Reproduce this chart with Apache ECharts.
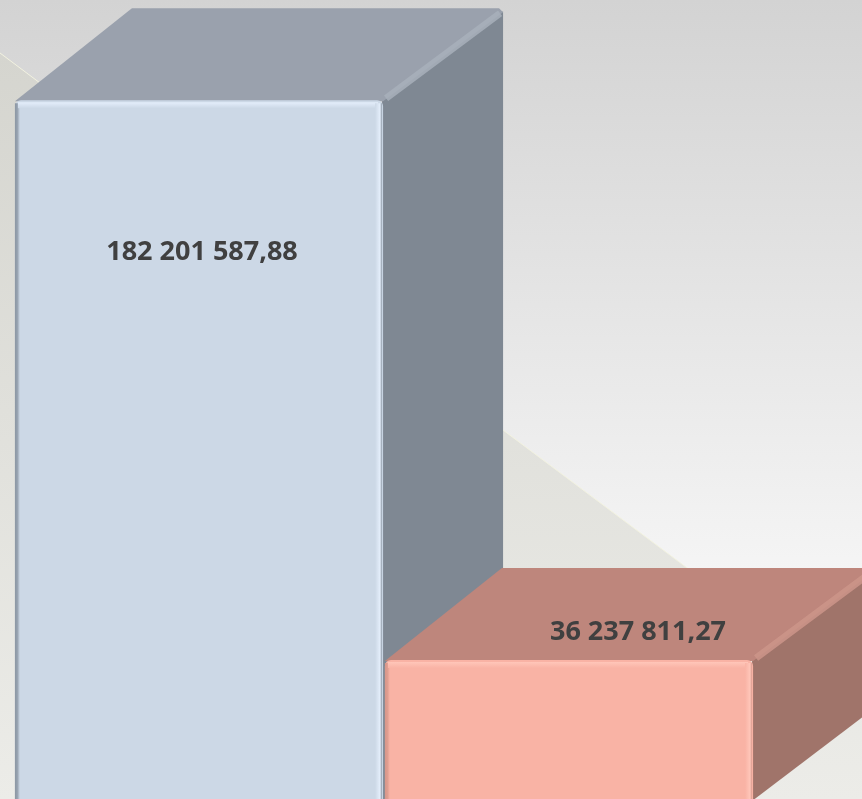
<!DOCTYPE html>
<html>
<head>
<meta charset="utf-8">
<script src="https://cdn.jsdelivr.net/npm/echarts@6/dist/echarts.min.js"></script>
<style>
html,body{margin:0;padding:0;background:#e6e6e6;}
#chart{width:862px;height:799px;}
</style>
</head>
<body>
<div id="chart"></div>
<script>
// ---- data ----
const categories = ['1', '2'];
const values = [182201587.88, 36237811.27];
const valueLabels = ['182 201 587,88', '36 237 811,27'];

// ---- styling (not data) ----
const palettes = [
  {front:'#ccd8e6', top:'#9aa1ad', side:'#7f8893', hi:'#e4eefb', edge:'#8e99a6', ridge:'#a8b0bb'},
  {front:'#f9b3a5', top:'#be867c', side:'#a0746a', hi:'#ffc6b9', edge:'#d9988b', ridge:'#cc958a'}
];
const labelOffsets = [[3, 152], [69, -28]];
const DX = 120, DY = -92;

const chart = echarts.init(document.getElementById('chart'), null, {renderer:'canvas'});

function renderItem(params, api) {
  const i = api.value(0);
  const v = api.value(1);
  const t = api.coord([i, v]);
  const b = api.coord([i, 0]);
  const bw = api.size([1, 0])[0] * 0.995;
  const x0 = t[0] - bw / 2, x1 = t[0] + bw / 2, y0 = t[1], y1 = b[1] + 2;
  const p = palettes[i];
  const off = labelOffsets[i];
  return {
    type: 'group',
    children: [
      { type: 'polygon', shape: {points: [[x1 - 1, y0], [x1 + DX, y0 + DY + 3], [x1 + DX, y1 + DY], [x1 - 1, y1]]},
        style: {fill: p.side} },
      { type: 'polygon', shape: {points: [[x0, y0 + 1], [x0 + DX - 3, y0 + DY], [x1 + DX - 4, y0 + DY], [x1 + DX, y0 + DY + 4], [x1, y0 + 1]]},
        style: {fill: p.top} },
      { type: 'line', shape: {x1: x1 + 3, y1: y0 - 2, x2: x1 + DX - 3, y2: y0 + DY + 5},
        style: {stroke: p.ridge, lineWidth: 7, opacity: 0.85} },
      { type: 'rect', shape: {x: x0, y: y0, width: bw, height: y1 - y0, r: [6, 6, 0, 0]},
        style: {fill: p.front} },
      { type: 'rect', shape: {x: x0, y: y0 + 3, width: 2, height: y1 - y0 - 3},
        style: {fill: p.edge} },
      { type: 'rect', shape: {x: x0 + 2, y: y0 + 3, width: 3, height: y1 - y0 - 3},
        style: {fill: new echarts.graphic.LinearGradient(0, 0, 1, 0, [
          {offset: 0, color: p.edge}, {offset: 1, color: p.front}])} },
      { type: 'rect', shape: {x: x0 + 3, y: y0 + 2, width: bw - 8, height: 6},
        style: {fill: new echarts.graphic.LinearGradient(0, 0, 0, 1, [
          {offset: 0, color: p.hi}, {offset: 1, color: p.front}])} },
      { type: 'rect', shape: {x: x1 - 8, y: y0 + 3, width: 7, height: y1 - y0 - 3},
        style: {fill: new echarts.graphic.LinearGradient(0, 0, 1, 0, [
          {offset: 0, color: p.front}, {offset: 0.7, color: p.hi}, {offset: 1, color: p.edge}])} },
      { type: 'text', x: t[0] + off[0], y: y0 + off[1],
        style: {text: valueLabels[i], fill: '#404040', font: 'bold 27px "Open Sans", sans-serif',
          align: 'center', verticalAlign: 'middle'} }
    ]
  };
}

const option = {
  animation: false,
  backgroundColor: 'transparent',
  graphic: [
    { type: 'rect', z: -10, silent: true, shape: {x: 0, y: 0, width: 862, height: 799},
      style: {fill: new echarts.graphic.LinearGradient(0, 0, 0, 1, [
        {offset: 0, color: '#d3d3d3'}, {offset: 0.72, color: '#f5f5f5'}, {offset: 1, color: '#f8f8f8'}])} },
    { type: 'polygon', z: -9, silent: true,
      shape: {points: [[0, 53], [862, 699], [862, 799], [0, 799]]},
      style: {fill: new echarts.graphic.LinearGradient(0, 0, 0, 1, [
        {offset: 0, color: '#d5d5cf'}, {offset: 1, color: '#ecece8'}])} },
    { type: 'line', z: -8, silent: true,
      shape: {x1: 0, y1: 53, x2: 862, y2: 699},
      style: {stroke: '#f2f2e0', lineWidth: 1} }
  ],
  grid: {left: 14, right: 108, top: 32, bottom: 0},
  xAxis: {type: 'category', data: categories, show: false},
  yAxis: {type: 'value', min: 0, max: 200000000, show: false},
  series: [{
    type: 'custom',
    renderItem: renderItem,
    encode: {x: 0, y: 1},
    data: categories.map((c, i) => [i, values[i]]),
    clip: false
  }]
};
chart.setOption(option);
</script>
</body>
</html>
